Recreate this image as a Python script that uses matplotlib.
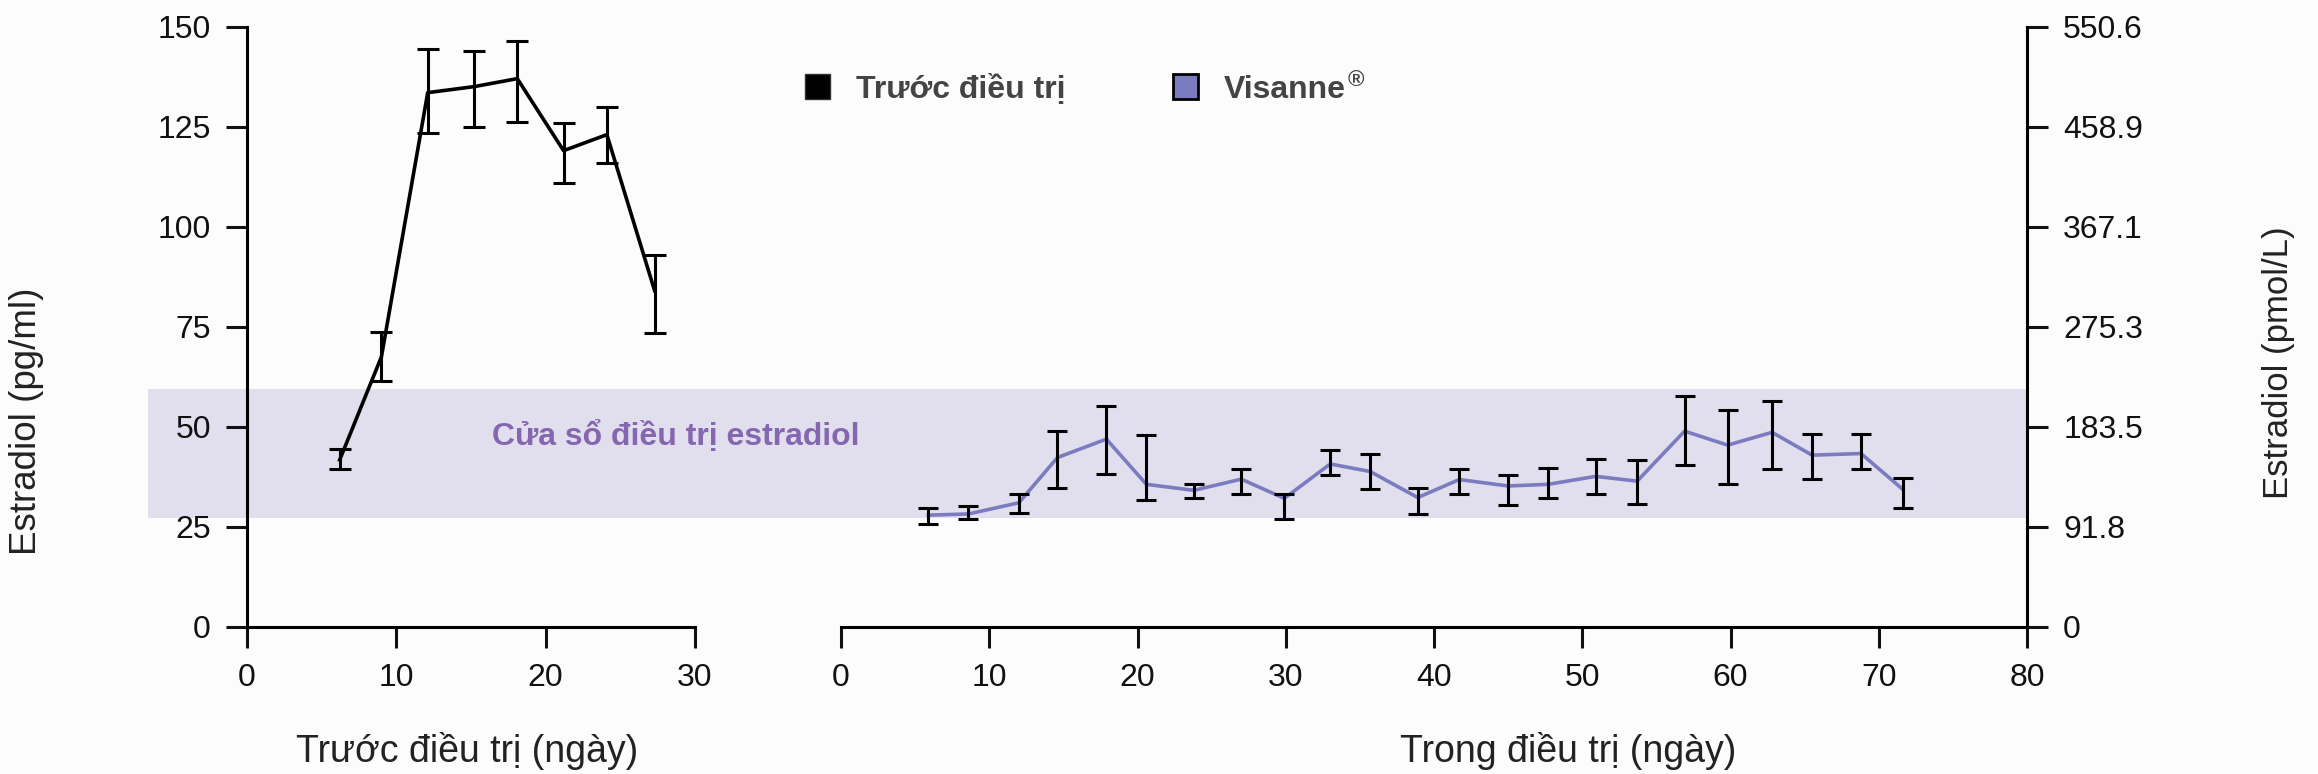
import matplotlib.pyplot as plt
from matplotlib.lines import Line2D
from matplotlib.patches import Rectangle
from matplotlib.transforms import blended_transform_factory

plt.rcParams['font.family'] = ['Liberation Sans', 'DejaVu Sans']

# pre-treatment estradiol (pg/ml), mean with error bar ends
pre_days = [6.2, 9.0, 12.1, 15.2, 18.1, 21.2, 24.1, 27.3]
pre_mean = [41.7, 67.5, 133.5, 135.0, 137.0, 119.0, 123.0, 84.0]
pre_low = [39.5, 61.5, 123.5, 124.8, 126.2, 111.0, 115.8, 73.5]
pre_high = [44.5, 73.8, 144.3, 143.8, 146.3, 126.0, 129.8, 92.8]

# on Visanne
vis_days = [5.9, 8.6, 12.0, 14.6, 17.9, 20.6, 23.8, 27.0, 29.9, 33.0, 35.7, 38.9,
            41.7, 45.0, 47.7, 50.9, 53.7, 56.9, 59.8, 62.8, 65.5, 68.8, 71.6]
vis_mean = [27.9, 28.2, 31.0, 42.3, 46.9, 35.6, 34.1, 36.9, 32.1, 40.7, 38.8, 32.3,
            36.8, 35.2, 35.6, 37.6, 36.4, 48.9, 45.4, 48.6, 42.9, 43.3, 34.4]
vis_low = [25.8, 27.0, 28.4, 34.8, 38.3, 31.7, 32.1, 33.2, 26.9, 37.9, 34.4, 28.3,
           33.2, 30.4, 32.3, 33.2, 30.8, 40.4, 35.7, 39.4, 36.9, 39.4, 29.6]
vis_high = [29.7, 30.3, 33.3, 49.0, 55.3, 47.9, 35.8, 39.4, 33.3, 44.2, 43.1, 34.8,
            39.4, 37.9, 39.6, 41.9, 41.8, 57.7, 54.2, 56.5, 48.1, 48.1, 37.1]

# therapeutic window (pg/ml)
window_low, window_high = 27.3, 59.5

pg_ticks = [0, 25, 50, 75, 100, 125, 150]
pmol_labels = ["0", "91.8", "183.5", "275.3", "367.1", "458.9", "550.6"]

purple = "#7b7bbf"
band_color = "#e1dfee"

fig = plt.figure(figsize=(23.18, 7.74), dpi=100, facecolor="#fcfcfc")
ax1 = fig.add_axes([0.1066, 0.1902, 0.1932, 0.7754])
ax2 = fig.add_axes([0.3628, 0.1902, 0.5117, 0.7754])
for ax in (ax1, ax2):
    ax.set_facecolor("none")
    ax.set_ylim(0, 150)
    ax.spines["top"].set_visible(False)
    for s in ax.spines.values():
        s.set_linewidth(2.2)
    ax.tick_params(axis="both", width=2.2, length=15, labelsize=23, colors="#111111", pad=11)

# left panel
ax1.set_xlim(0, 30)
ax1.set_xticks([0, 10, 20, 30])
ax1.set_yticks(pg_ticks)
ax1.spines["right"].set_visible(False)
ax1.plot(pre_days, pre_mean, color="black", lw=2.6, zorder=3)
ax1.errorbar(pre_days, pre_mean,
             yerr=[[m - l for m, l in zip(pre_mean, pre_low)],
                   [h - m for m, h in zip(pre_mean, pre_high)]],
             fmt="none", ecolor="black", elinewidth=2.2, capsize=8, capthick=2.2, zorder=4)

# right panel
ax2.set_xlim(0, 80)
ax2.set_xticks(range(0, 81, 10))
ax2.spines["left"].set_visible(False)
ax2.yaxis.tick_right()
ax2.set_yticks(pg_ticks)
ax2.set_yticklabels(pmol_labels)
ax2.plot(vis_days, vis_mean, color=purple, lw=2.6, zorder=3)
ax2.errorbar(vis_days, vis_mean,
             yerr=[[m - l for m, l in zip(vis_mean, vis_low)],
                   [h - m for m, h in zip(vis_mean, vis_high)]],
             fmt="none", ecolor="black", elinewidth=2.2, capsize=7, capthick=2.2, zorder=4)

# therapeutic window band across both panels (lives in ax1, drawn under everything)
tr = blended_transform_factory(fig.transFigure, ax1.transData)
ax1.add_patch(Rectangle((0.064, window_low), 0.8105, window_high - window_low,
                        transform=tr, facecolor=band_color, edgecolor="none",
                        zorder=0, clip_on=False))
ax1.text(16.4, 47.7, "Cửa sổ điều trị estradiol", color="#8566b0", fontsize=23,
         fontweight="bold", va="center", ha="left", clip_on=False)

# axis labels
fig.text(0.0115, 0.456, "Estradiol (pg/ml)", rotation=90, ha="center", va="center",
         fontsize=26.5, color="#222222")
fig.text(0.983, 0.532, "Estradiol (pmol/L)", rotation=90, ha="center", va="center",
         fontsize=25, color="#222222")
fig.text(0.2015, 0.03, "Trước điều trị (ngày)", ha="center", va="center",
         fontsize=27, color="#222222")
fig.text(0.6766, 0.03, "Trong điều trị (ngày)", ha="center", va="center",
         fontsize=27, color="#222222")

# legend
handles = [Line2D([], [], marker="s", linestyle="none", markersize=18,
                  markerfacecolor="black", markeredgecolor="#333333"),
           Line2D([], [], marker="s", linestyle="none", markersize=18,
                  markerfacecolor=purple, markeredgecolor="black", markeredgewidth=2)]
leg = fig.legend(handles, ["Trước điều trị", "Visanne"], loc="center left",
                 bbox_to_anchor=(0.334, 0.885), ncol=2, frameon=False,
                 handlelength=0.9, handletextpad=0.75, columnspacing=3.3,
                 prop={"size": 23, "weight": "bold"})
for t in leg.get_texts():
    t.set_color("#444444")

# superscript registered mark right after "Visanne"
fig.canvas.draw()
bb = leg.get_texts()[1].get_window_extent()
rx, ry = fig.transFigure.inverted().transform((bb.x1, bb.y1))
fig.text(rx + 0.001, ry + 0.006, "®", ha="left", va="top", fontsize=16,
         fontweight="bold", color="#444444")

fig.savefig("out.png", dpi=100, facecolor=fig.get_facecolor())
